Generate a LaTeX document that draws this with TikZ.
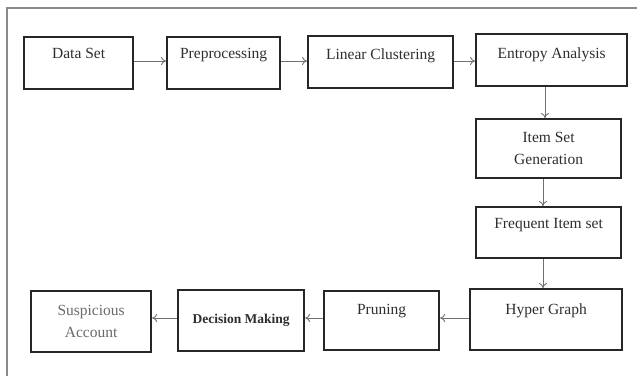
\documentclass[tikz,border=0pt]{standalone}
\usepackage{fontspec}
\setmainfont{Liberation Serif}
\newfontfamily\tnr{Liberation Serif}
\usetikzlibrary{arrows.meta}
\definecolor{framegray}{HTML}{8A8A8A}
\definecolor{boxline}{HTML}{262626}
\definecolor{arrgray}{HTML}{707070}
\definecolor{txtgray}{HTML}{2E2E2E}
\definecolor{lighttxt}{HTML}{6A6A6A}
\begin{document}
\begin{tikzpicture}[x=1pt,y=-1pt,
  box/.style={draw=boxline, line width=2.2pt, fill=white, inner sep=0pt, anchor=north west,
    text=txtgray, font=\tnr\fontsize{15.5}{22.5}\selectfont, align=center},
  conn/.style={draw=arrgray, line width=0.9pt, -{To[length=5pt,width=8pt]}}]
\useasboundingbox (0,0) rectangle (637,376);
\draw[framegray, line width=1.6pt] (7,376) -- (7,8) -- (637,8);
% top row
\node[box, minimum width=109pt, text height=21pt, text depth=31pt] (ds) at (23,36) {Data Set};
\node[box, minimum width=113pt, text height=21pt, text depth=31pt] (pp) at (166,36) {Preprocessing};
\node[box, minimum width=145pt, text height=23pt, text depth=29pt] (lc) at (307,35) {Linear Clustering};
\node[box, minimum width=151pt, text height=24pt, text depth=28pt] (ea) at (475,33) {Entropy Analysis};
% right column
\node[box, minimum width=145pt, minimum height=59pt] (is) at (475,118) {Item Set\\Generation};
\node[box, minimum width=145pt, text height=21pt, text depth=30pt] (fi) at (475,206) {Frequent Item set};
% bottom row
\node[box, minimum width=152pt, text height=25pt, text depth=36pt] (hg) at (469,288) {Hyper Graph};
\node[box, minimum width=115pt, text height=23pt, text depth=36pt] (pr) at (323,290) {Pruning};
\node[box, minimum width=126pt, minimum height=61pt, font=\tnr\fontsize{13.5}{18}\selectfont\bfseries] (dm) at (177,289) {Decision Making};
\node[box, minimum width=120pt, minimum height=61pt, text=lighttxt] (sa) at (30,290) {Suspicious\\Account};
% connectors
\draw[conn] (ds.east |- 0,61) -- (pp.west |- 0,61);
\draw[conn] (pp.east |- 0,61) -- (lc.west |- 0,61);
\draw[conn] (lc.east |- 0,61) -- (ea.west |- 0,61);
\draw[conn] (ea.south -| 545,0) -- (is.north -| 545,0);
\draw[conn] (is.south -| 543,0) -- (fi.north -| 543,0);
\draw[conn] (fi.south -| 543,0) -- (hg.north -| 543,0);
\draw[conn] (hg.west |- 0,318) -- (pr.east |- 0,318);
\draw[conn] (pr.west |- 0,318) -- (dm.east |- 0,318);
\draw[conn] (dm.west |- 0,318) -- (sa.east |- 0,318);
\end{tikzpicture}
\end{document}
